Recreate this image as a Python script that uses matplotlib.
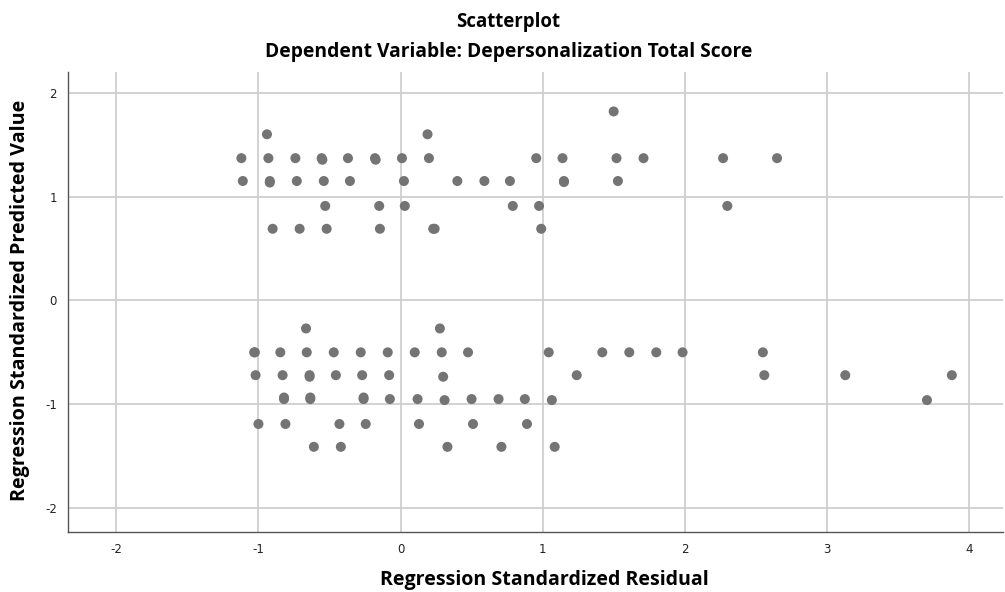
import matplotlib
matplotlib.use("Agg")
import matplotlib.pyplot as plt
import numpy as np

# punti: (residuo standardizzato, valore previsto standardizzato)
resid_top = [1.50,
             -0.94, 0.19,
             -1.12, -0.93, -0.74, -0.555, -0.55, -0.37, -0.18, -0.175, 0.01, 0.20,
             0.955, 1.14, 1.52, 1.71, 2.27, 2.65,
             -1.11, -0.92, -0.92, -0.73, -0.54, -0.356, 0.024, 0.40, 0.59, 0.77,
             1.15, 1.15, 1.53,
             -0.53, -0.15, 0.03, 0.79, 0.975, 2.30,
             -0.90, -0.71, -0.52, -0.145, 0.23, 0.24, 0.99]
pred_top = [1.82,
            1.60, 1.60,
            1.37, 1.37, 1.37, 1.37, 1.355, 1.37, 1.37, 1.355, 1.37, 1.37,
            1.37, 1.37, 1.37, 1.37, 1.37, 1.37,
            1.15, 1.15, 1.135, 1.15, 1.15, 1.15, 1.15, 1.15, 1.15, 1.15,
            1.15, 1.14, 1.15,
            0.91, 0.91, 0.91, 0.91, 0.91, 0.91,
            0.69, 0.69, 0.69, 0.69, 0.69, 0.69, 0.69]

resid_bottom = [-0.665, 0.277,
                -1.03, -1.025, -0.846, -0.66, -0.47, -0.28, -0.09, 0.10, 0.29,
                0.475, 1.043, 1.42, 1.61, 1.80, 1.985, 2.55,
                -1.02, -0.83, -0.64, -0.64, -0.455, -0.27, -0.08, 0.30,
                1.24, 2.56, 3.13, 3.88,
                -0.82, -0.82, -0.635, -0.635, -0.26, -0.26, -0.075, 0.12, 0.31,
                0.50, 0.69, 0.875, 1.065, 3.705,
                -1.00, -0.81, -0.43, -0.245, 0.13, 0.51, 0.89,
                -0.61, -0.42, 0.33, 0.71, 1.085]
pred_bottom = [-0.27, -0.27,
               -0.50, -0.50, -0.50, -0.50, -0.50, -0.50, -0.50, -0.50, -0.50,
               -0.50, -0.50, -0.50, -0.50, -0.50, -0.50, -0.50,
               -0.72, -0.72, -0.72, -0.735, -0.72, -0.72, -0.72, -0.735,
               -0.72, -0.72, -0.72, -0.72,
               -0.95, -0.935, -0.95, -0.935, -0.95, -0.935, -0.95, -0.95, -0.96,
               -0.95, -0.95, -0.95, -0.96, -0.96,
               -1.19, -1.19, -1.19, -1.19, -1.19, -1.19, -1.19,
               -1.41, -1.41, -1.41, -1.41, -1.41]

x_ticks = [-2, -1, 0, 1, 2, 3, 4]
y_ticks = [-2, -1, 0, 1, 2]

fig = plt.figure(figsize=(10.05, 5.92), dpi=100)
ax = fig.add_axes([0.0677, 0.1014, 0.9303, 0.777])

x = np.array(resid_top + resid_bottom)
y = np.array(pred_top + pred_bottom)
ax.scatter(x, y, s=52, color="#747474", edgecolors="none", zorder=3)

ax.set_xlim(-2.34, 4.24)
ax.set_ylim(-2.23, 2.2)
ax.set_xticks(x_ticks)
ax.set_yticks(y_ticks)
ax.set_xticklabels([str(t) for t in x_ticks])
ax.set_yticklabels([str(t) for t in y_ticks])
ax.grid(True, color="#cfcfcf", linewidth=1.3, zorder=0)
ax.tick_params(length=0, labelsize=8.5, colors="#222222", pad=8)

for side in ["top", "right"]:
    ax.spines[side].set_visible(False)
for side in ["left", "bottom"]:
    ax.spines[side].set_color("#555555")
    ax.spines[side].set_linewidth(1.0)

fig.text(0.506, 0.962, "Scatterplot", ha="center", va="center",
         fontsize=13.4, fontweight="bold", family="Open Sans")
fig.text(0.506, 0.913, "Dependent Variable: Depersonalization Total Score",
         ha="center", va="center", fontsize=13.9, fontweight="bold", family="Open Sans")
fig.text(0.542, 0.02, "Regression Standardized Residual", ha="center", va="center",
         fontsize=14.1, fontweight="bold", family="Open Sans")
fig.text(0.02, 0.493, "Regression Standardized Predicted Value", ha="center",
         va="center", rotation=90, fontsize=14.2, fontweight="bold", family="Open Sans")

fig.savefig("out.png", dpi=100)
